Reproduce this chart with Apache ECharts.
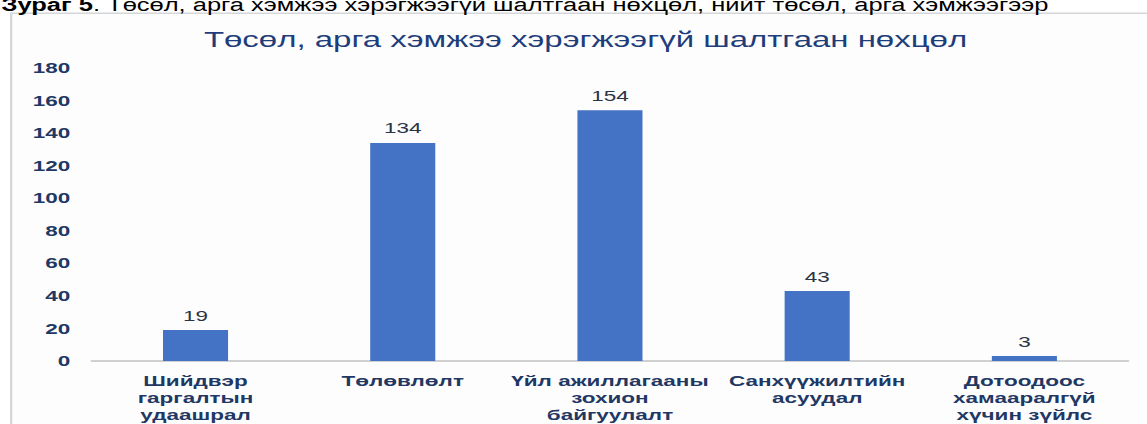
<!DOCTYPE html>
<html><head><meta charset="utf-8">
<script src="https://cdn.jsdelivr.net/npm/echarts@6/dist/echarts.min.js"></script>
<style>
html,body{margin:0;padding:0;background:#fff;overflow:hidden;}
#wrap{width:1147px;height:424px;overflow:hidden;position:relative;}
#c{width:765px;height:424px;transform:scaleX(1.4994);transform-origin:0 0;}
</style></head>
<body><div id="wrap"><div id="c"></div></div>
<script>
const captionBold = 'Зураг 5';
const captionRest = '. Төсөл, арга хэмжээ хэрэгжээгүй шалтгаан нөхцөл, нийт төсөл, арга хэмжээгээр';
const chartTitle = 'Төсөл, арга хэмжээ хэрэгжээгүй шалтгаан нөхцөл';
const categories = [
  'Шийдвэр\nгаргалтын\nудаашрал',
  'Төлөвлөлт',
  'Үйл ажиллагааны\nзохион\nбайгуулалт',
  'Санхүүжилтийн\nасуудал',
  'Дотоодоос\nхамааралгүй\nхүчин зүйлс'
];
const values = [19, 134, 154, 43, 3];
const yMin = 0, yMax = 180, yStep = 20;

const navy = '#1F3864';
const font = '"Liberation Sans", Arial, sans-serif';
const chart = echarts.init(document.getElementById('c'), null, {renderer: 'svg'});
chart.setOption({
  animation: false,
  backgroundColor: '#ffffff',
  textStyle: {fontFamily: font},
  graphic: [
    {type: 'rect', left: 6.7, top: 12.5, shape: {width: 800, height: 430},
     style: {fill: '#fdfdfe', stroke: '#d4d6da', lineWidth: 1.5}, z: -10, silent: true},
    {type: 'text', x: 1, y: 14.5, scaleX: 0.895,
     style: {text: '{b|' + captionBold + '}{r|' + captionRest + '}', verticalAlign: 'bottom', align: 'left',
       rich: {b: {fontFamily: font, fontSize: 19, fontWeight: 'bold', fill: '#000'},
              r: {fontFamily: font, fontSize: 19, fill: '#000'}}}},
    {type: 'text', x: 390.5, y: 40,
     style: {text: chartTitle, align: 'center', verticalAlign: 'middle', fontFamily: font, fontSize: 22, fill: '#1F3D7A'}}
  ],
  grid: {left: 61.3, right: 12.7, top: 68, bottom: 63, containLabel: false},
  xAxis: {
    type: 'category', data: categories,
    axisLine: {show: true, lineStyle: {color: '#d0d0d0', width: 2}},
    axisTick: {show: false},
    axisLabel: {color: navy, fontSize: 15, fontWeight: 'bold', lineHeight: 17, margin: 11, interval: 0, fontFamily: font}
  },
  yAxis: {
    type: 'value', min: yMin, max: yMax, interval: yStep,
    axisLine: {show: false}, axisTick: {show: false}, splitLine: {show: false},
    axisLabel: {color: navy, fontSize: 15, fontWeight: 'bold', margin: 14.5, fontFamily: font}
  },
  series: [{
    type: 'bar', data: values, barWidth: '31.4%',
    itemStyle: {color: '#4472C4'},
    label: {show: true, position: 'top', distance: 7, color: '#2b3445', fontSize: 15, fontFamily: font}
  }]
});
</script></body></html>
